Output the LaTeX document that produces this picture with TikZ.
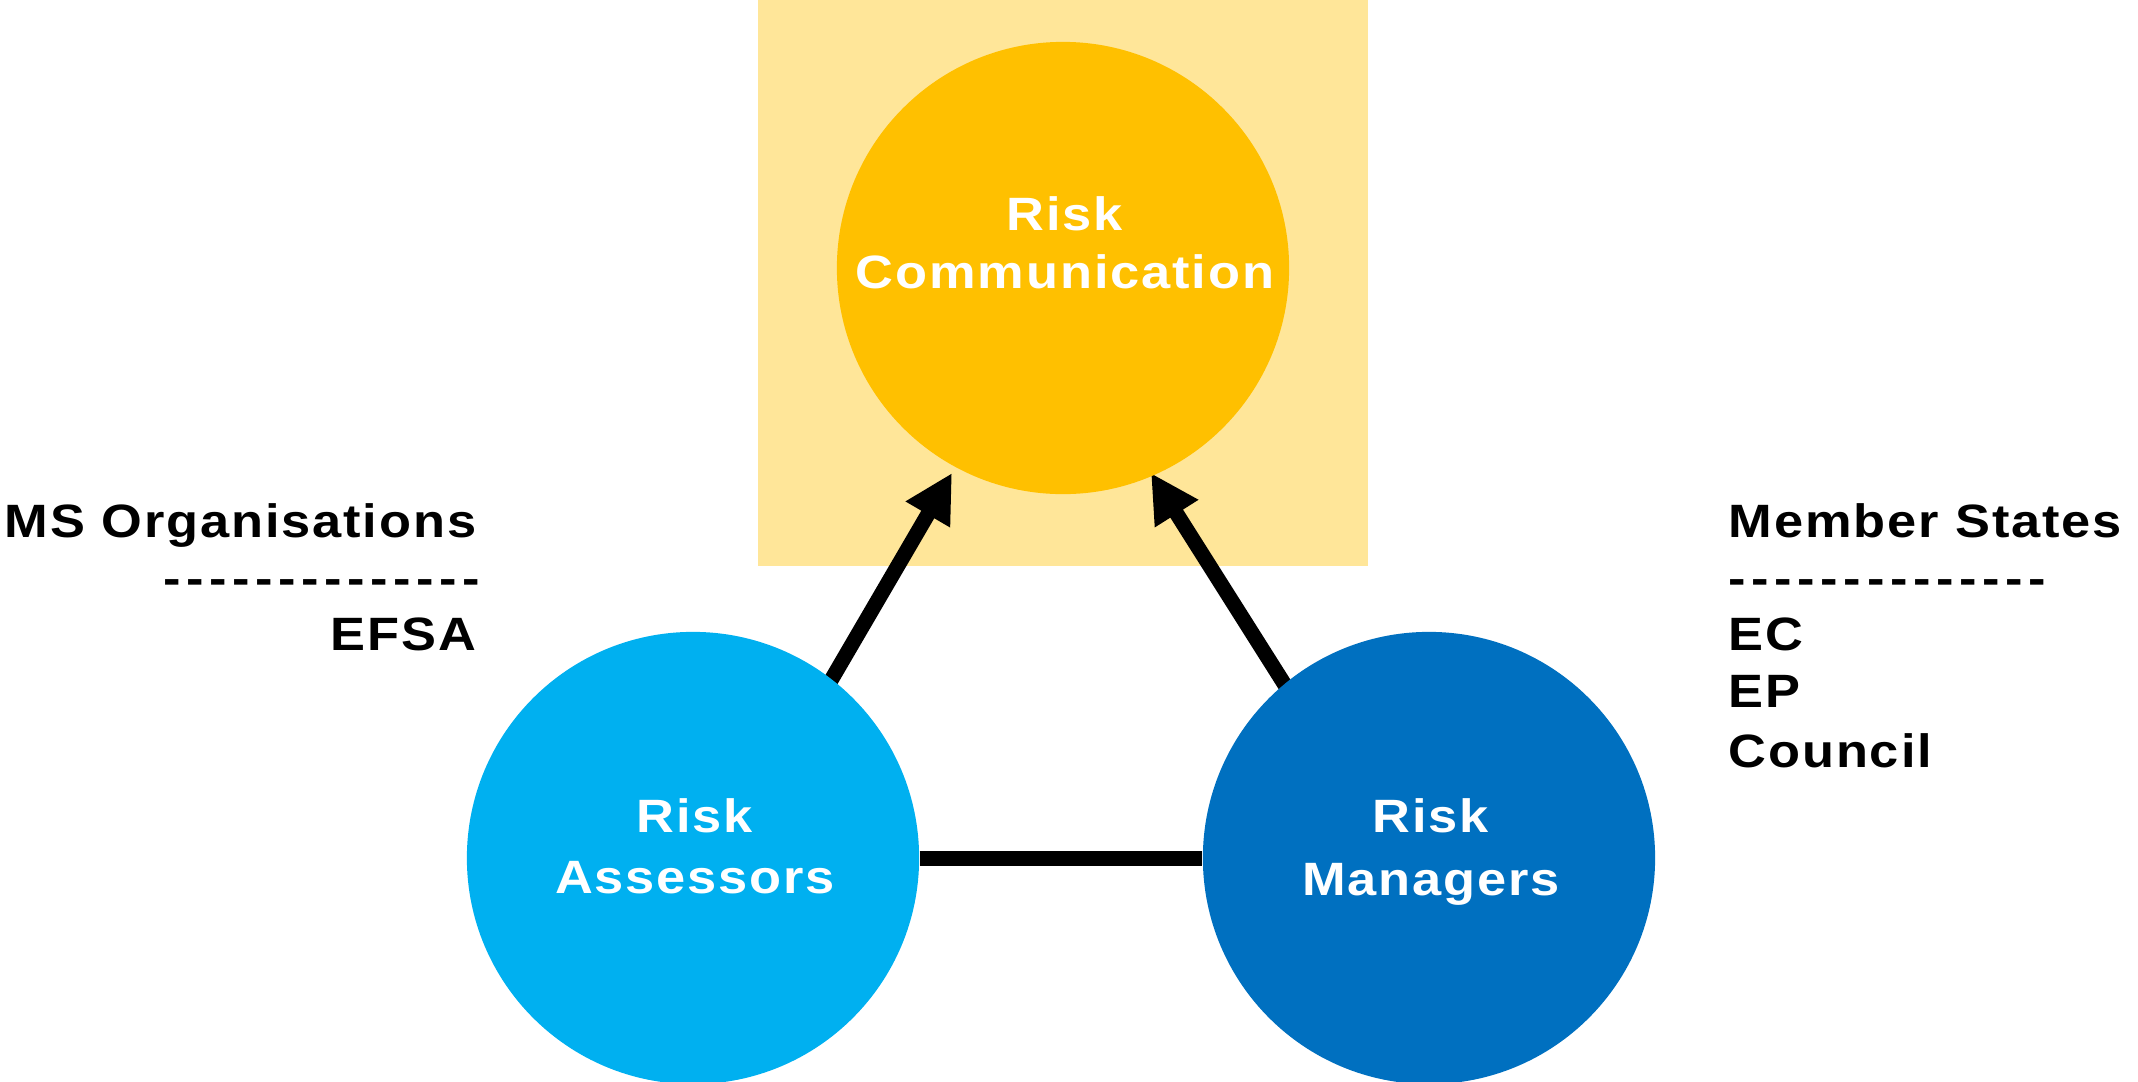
\documentclass[tikz,border=0pt]{standalone}
\usepackage{fontspec}
\setmainfont{Liberation Sans}[FakeStretch=1.12, LetterSpace=4]
\newfontfamily\dashfont{Liberation Sans}[FakeStretch=1.12, LetterSpace=12, Ligatures=TeXOff]
\usetikzlibrary{arrows.meta}
\definecolor{rcfill}{HTML}{FFC000}
\definecolor{rcback}{HTML}{FFE699}
\definecolor{rafill}{HTML}{00B0F0}
\definecolor{rmfill}{HTML}{0070C0}
\tikzset{
  bubble/.style={circle, minimum size=4.52cm, inner sep=0pt, draw=none},
  intext/.style={anchor=base, text=white, font=\bfseries\fontsize{13.3}{16}\selectfont, inner sep=0pt},
  sidetext/.style={anchor=base, text=black, font=\bfseries\fontsize{13.3}{16}\selectfont, inner sep=0pt},
  dashtext/.style={anchor=base, text=black, font=\dashfont\bfseries\fontsize{13.3}{16}\selectfont, inner sep=0pt},
  link/.style={line width=0.15cm, black},
  arrowlink/.style={link, -{Triangle[length=0.48cm, width=0.48cm]}}
}
\begin{document}
\begin{tikzpicture}[x=0.01cm, y=-0.01cm]
\useasboundingbox (0,0) rectangle (2138,1081);
\fill[rcback] (758,0) rectangle (1368,566);
% connectors (drawn below the circles)
\coordinate (a1s) at (816,706);
\coordinate (a1e) at (952,473);
\coordinate (a2s) at (1290,693);
\coordinate (a2e) at (1151,473);
\draw[arrowlink] (a1s) -- (a1e);
\draw[arrowlink] (a2s) -- (a2e);
\node[bubble, fill=rcfill] (rc) at (1063,268) {};
\node[bubble, fill=rafill] (ra) at (693,858) {};
\node[bubble, fill=rmfill] (rm) at (1429,858) {};
\draw[link] (ra.east) -- (rm.west);
% circle texts
\node[intext] (rc1) at (1065,230) {Risk};
\node[intext] (rc2) at (1065,288) {Communication};
\node[intext] (ra1) at (695,832) {Risk};
\node[intext] (ra2) at (695,893) {Assessors};
\node[intext] (rm1) at (1431,832) {Risk};
\node[intext] (rm2) at (1431,895) {Managers};
% side texts
\node[sidetext, anchor=base east] (l1) at (477,537) {MS Organisations};
\node[dashtext, anchor=base east] (l2) at (481,594) {--------------};
\node[sidetext, anchor=base east] (l3) at (477,650) {EFSA};
\node[sidetext, anchor=base west] (r1) at (1728,537) {Member States};
\node[dashtext, anchor=base west] (r2) at (1728,594) {--------------};
\node[sidetext, anchor=base west] (r3) at (1728,650) {EC};
\node[sidetext, anchor=base west] (r4) at (1728,707) {EP};
\node[sidetext, anchor=base west] (r5) at (1728,767) {Council};
\end{tikzpicture}
\end{document}
